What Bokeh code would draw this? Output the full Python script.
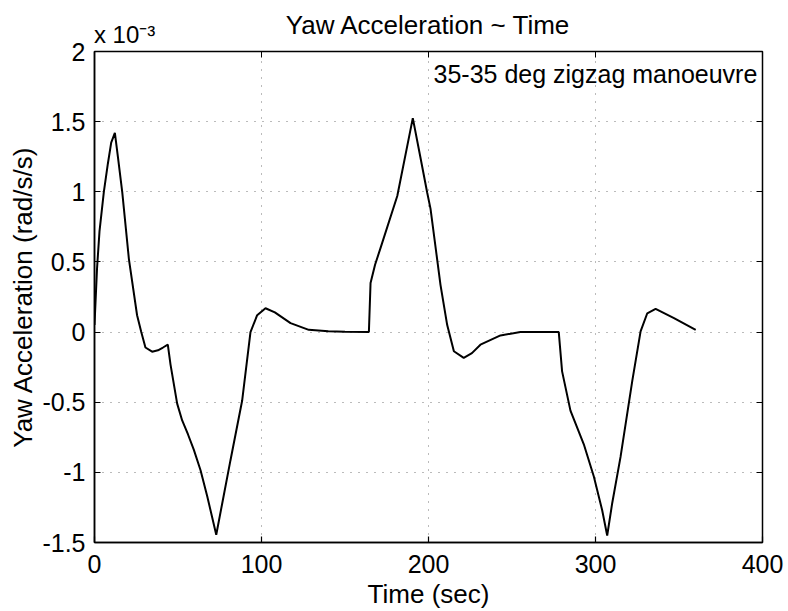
from bokeh.plotting import figure
from bokeh.models import Label, FixedTicker, LinearAxis, CustomJSTickFormatter, Range1d
from bokeh.embed import file_html
from bokeh.resources import INLINE

# Data (yaw acceleration in units of 1e-3 rad/s/s)
time_s = [0, 1.5, 3, 5.6, 8, 10, 12.2, 14, 16.6, 20.6,
          25.5, 28, 30.5, 34.5, 38, 41, 43.9, 45.5, 49.5, 52.5,
          56, 59.5, 63.5, 67.5, 72.9, 76.5, 81.4, 88.4, 93.4, 97.4,
          102.4, 108, 117.4, 128.3, 140, 150, 164.3, 165.3, 168, 171.3,
          181.3, 190.6, 195, 199.2, 201.2, 207.2, 211.2, 215.2, 221.1, 226,
          231.1, 243.1, 255, 278, 280, 285, 293, 299, 304, 307,
          310, 315, 322, 327, 331, 336, 347, 360]
yaw_acc = [0.05, 0.45, 0.72, 1.0, 1.2, 1.35, 1.42, 1.25, 1.0, 0.52,
           0.12, 0.0, -0.11, -0.14, -0.13, -0.11, -0.09, -0.23, -0.51, -0.63,
           -0.73, -0.84, -0.985, -1.17, -1.445, -1.22, -0.915, -0.49, 0.0, 0.12,
           0.17, 0.14, 0.064, 0.016, 0.005, 0.002, 0.0, 0.35, 0.48, 0.6,
           0.97, 1.525, 1.255, 0.995, 0.88, 0.335, 0.05, -0.137, -0.184, -0.15,
           -0.09, -0.024, 0.0, 0.0, -0.28, -0.56, -0.8, -1.03, -1.27, -1.45,
           -1.22, -0.89, -0.35, 0.005, 0.134, 0.165, 0.1, 0.016]

x_ticks = [0, 100, 200, 300, 400]
x_tick_labels = ["0", "100", "200", "300", "400"]
y_ticks = [-1.5, -1.0, -0.5, 0.0, 0.5, 1.0, 1.5, 2.0]
y_tick_labels = ["-1.5", "-1", "-0.5", "0", "0.5", "1", "1.5", "2"]

title_text = "Yaw Acceleration ~ Time"
x_label = "Time (sec)"
y_label = "Yaw Acceleration (rad/s/s)"
annotation_text = "35-35 deg zigzag manoeuvre"
scale_text = "x 10\u207b\u00b3"
scale_pos = 18  # x position (data units) where the scale-factor note is centred

FONT = "Liberation Sans"
FS = "26px"
TFS = "25px"

p = figure(width=788, height=611, output_backend="svg", toolbar_location=None,
           title=None,
           x_range=Range1d(0, 400), y_range=Range1d(-1.5, 2.0),
           min_border_left=94, min_border_right=26, min_border_top=51, min_border_bottom=65)
p.background_fill_color = "white"
p.border_fill_color = "white"
p.outline_line_color = "black"
p.outline_line_width = 1.5

p.line(time_s, yaw_acc, line_color="black", line_width=2)

# Axes
xa = p.xaxis[0]
ya = p.yaxis[0]
xa.ticker = FixedTicker(ticks=x_ticks)
ya.ticker = FixedTicker(ticks=y_ticks)
xa.major_label_overrides = {t: l for t, l in zip(x_ticks, x_tick_labels)}
ya.major_label_overrides = {t: l for t, l in zip(y_ticks, y_tick_labels)}
for ax in (xa, ya):
    ax.major_label_text_font = FONT
    ax.major_label_text_font_size = TFS
    ax.major_label_text_color = "black"
    ax.axis_label_text_font = FONT
    ax.axis_label_text_font_size = FS
    ax.axis_label_text_font_style = "normal"
    ax.axis_label_text_color = "black"
    ax.axis_line_color = "black"
    ax.axis_line_width = 1.5
    ax.major_tick_in = 6
    ax.major_tick_out = 0
    ax.major_tick_line_width = 1.2
    ax.minor_tick_line_color = None
xa.axis_label = x_label
ya.axis_label = y_label
xa.major_label_standoff = 12
ya.major_label_standoff = 9
xa.axis_label_standoff = 3
ya.axis_label_standoff = 1

# Mirror ticks on top and right
blank = CustomJSTickFormatter(code="return ''")
for loc, tick in (("above", x_ticks), ("right", y_ticks)):
    ax = LinearAxis(ticker=FixedTicker(ticks=tick), formatter=blank)
    ax.major_tick_in = 6
    ax.major_tick_out = 0
    ax.minor_tick_line_color = None
    ax.axis_line_color = None
    ax.major_label_standoff = 0
    ax.major_label_text_font_size = "0px"
    p.add_layout(ax, loc)

# Top text axis: scale factor as a tick label, title as its axis label
top = LinearAxis(ticker=FixedTicker(ticks=[scale_pos]))
top.major_label_overrides = {scale_pos: scale_text}
top.major_tick_line_color = None
top.major_tick_in = 0
top.major_tick_out = 0
top.minor_tick_line_color = None
top.axis_line_color = None
top.major_label_standoff = 4
top.major_label_text_font = FONT
top.major_label_text_font_size = "24px"
top.major_label_text_color = "black"
top.axis_label = title_text
top.axis_label_text_font = FONT
top.axis_label_text_font_size = FS
top.axis_label_text_font_style = "normal"
top.axis_label_text_color = "black"
top.axis_label_standoff = -22
p.add_layout(top, "above")

# Grid
for g, tk in ((p.xgrid[0], x_ticks), (p.ygrid[0], y_ticks)):
    g.grid_line_color = "#555555"
    g.grid_line_dash = "1 7"
    g.grid_line_width = 1
    g.grid_line_alpha = 0.8
    g.ticker = FixedTicker(ticks=tk)

# Annotation
p.add_layout(Label(x=203, y=2.0, y_offset=-22, text=annotation_text,
                   text_font=FONT, text_font_size="25px", text_color="black",
                   text_baseline="alphabetic"))

open("out.html", "w").write(file_html(p, INLINE))
